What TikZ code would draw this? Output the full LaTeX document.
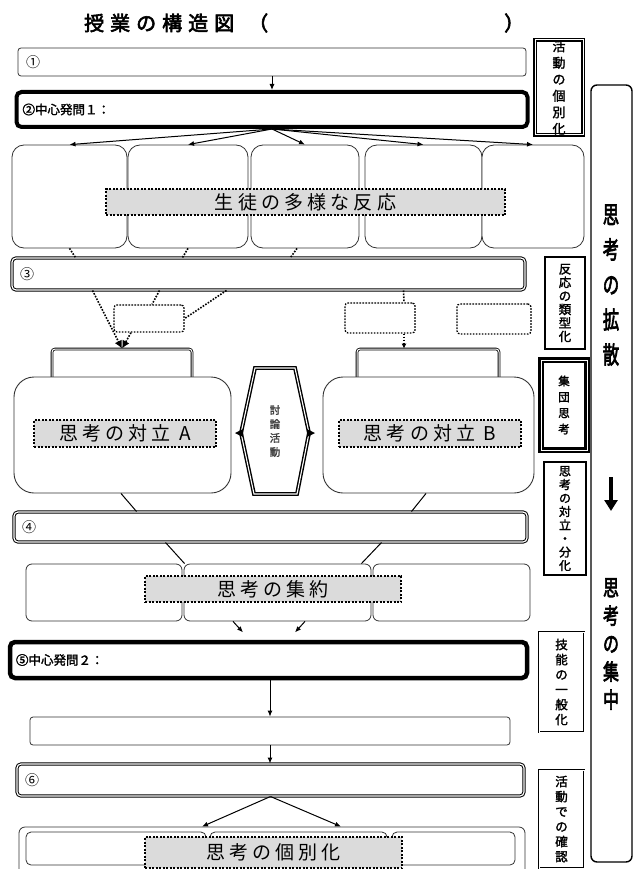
\documentclass[tikz,border=0pt]{standalone}
\usepackage{fontspec}
\usepackage{graphicx}
\setmainfont{Noto Sans CJK JP}
\newfontfamily\jpb{Noto Sans CJK JP}[FakeBold=2]
\newfontfamily\jpbb{Noto Sans CJK JP}[FakeBold=3.5]
\newfontfamily\jpsp{Noto Sans CJK JP}[LetterSpace=22]
\newfontfamily\jptitle{Noto Sans CJK JP}[FakeBold=3, LetterSpace=30]
\usetikzlibrary{arrows.meta, positioning, calc}

\begin{document}
\begin{tikzpicture}[x=1pt, y=-1pt,
    plainbox/.style={draw=black!80, rounded corners=3pt, line width=0.8pt, inner xsep=8pt, align=left},
    boldbox/.style={draw, rounded corners=5pt, line width=4pt, inner xsep=6pt, align=left},
    dblbox/.style={draw, rounded corners=4pt, line width=1pt, double, double distance=1.2pt, inner xsep=8pt, align=left},
    resp/.style={draw=black!80, rounded corners=12pt, line width=0.8pt, fill=white, inner sep=0pt},
    bigresp/.style={draw=black!80, rounded corners=20pt, line width=0.9pt, fill=white, inner sep=0pt},
    tabbox/.style={draw, rounded corners=3pt, line width=0.8pt, double, double distance=1pt, inner sep=0pt},
    smallbox/.style={draw, rounded corners=3pt, line width=1.3pt, dash pattern=on 1.6pt off 1.4pt, inner sep=0pt},
    lbl/.style={draw, fill=gray!28, line width=1.6pt, dash pattern=on 2pt off 1.5pt, inner sep=0pt,
                font=\jpsp\fontsize{19}{19}\selectfont},
    sidebox/.style={draw, line width=0.8pt, double, double distance=1pt, inner sep=0pt, align=center,
                font=\jpb\fontsize{12.5}{15}\selectfont},
    arr/.style={-{Latex[length=6pt, width=5pt]}, line width=1pt},
    dotarr/.style={line width=1.6pt, dash pattern=on 1.6pt off 1.4pt}
]
\useasboundingbox (0,0) rectangle (633,869);
\clip (0,0) rectangle (633,869);

% title
\node[anchor=west, inner sep=0pt, font=\jptitle\fontsize{20}{20}\selectfont] (title) at (84,23) {授業の構造図\hspace{14pt}（};
\node[anchor=west, inner sep=0pt, font=\jptitle\fontsize{20}{20}\selectfont] (titleend) at (504,23) {）};

% 1 and 2
\node[plainbox, minimum height=28, text width=492, font=\fontsize{14}{14}\selectfont] (q1) at (272,62) {①};
\node[boldbox, minimum height=35, text width=499, font=\jpb\fontsize{12.5}{13}\selectfont] (q2) at (272,109.5) {②中心発問１：};
\draw[arr] (q1.south) -- (q2.north);

% responses
\node[resp, minimum width=115, minimum height=103] (r1) at (69.5,196.5) {};
\node[resp, minimum width=120, minimum height=103] (r2) at (188,196.5) {};
\node[resp, minimum width=108, minimum height=103] (r3) at (305,196.5) {};
\node[resp, minimum width=117, minimum height=103] (r4) at (423.5,196.5) {};
\node[resp, minimum width=102, minimum height=103] (r5) at (533,196.5) {};
\foreach \r in {r1,r2,r3,r4,r5}
    \draw[arr] (q2.south) -- (\r.north);
\node[lbl, minimum width=399, minimum height=26] (gen) at (305.5,202) {生徒の多様な反応};

% 3
\node[dblbox, minimum height=32, text width=497, font=\fontsize{14}{14}\selectfont] (q3) at (268.5,274) {③};
\draw[dotarr] (r1.south) -- ($(q3.north west)+(64,0)$);
\draw[dotarr] (r2.south) -- ($(q3.north west)+(171,0)$);
\draw[dotarr] ([xshift=-8pt]r3.south) -- ($(q3.north west)+(279,0)$);

% grouping
\node[smallbox, minimum width=70, minimum height=27] (s1) at (149,318.5) {};
\node[smallbox, minimum width=70, minimum height=30] (s2) at (380,318) {};
\node[smallbox, minimum width=74, minimum height=30] (s3) at (494,319) {};

\node[tabbox, minimum width=140, minimum height=36] (tabA) at (122,367) {};
\node[tabbox, minimum width=142, minimum height=36] (tabB) at (428,367) {};
\node[bigresp, minimum width=217, minimum height=116] (boxA) at (122.5,435) {};
\node[bigresp, minimum width=211, minimum height=116] (boxB) at (428.5,435) {};

\draw[dotarr] ($(q3.south west)+(148,0)$) -- ([xshift=3pt]s1.north);
\draw[dotarr] ($(q3.south west)+(215,0)$) -- (s1.east);
\draw[dotarr, -{Latex[length=8pt, width=8pt]}] ($(q3.south west)+(81,0)$) -- (tabA.north);
\draw[dotarr, -{Latex[length=8pt, width=8pt]}] ([xshift=-18pt]s1.south) -- (tabA.north);
\draw[dotarr] ($(q3.south west)+(392,0)$) -- ([xshift=24pt]s2.north);
\draw[dotarr, -{Latex[length=5pt, width=5pt]}] ([xshift=24pt]s2.south) -- ([xshift=-24pt]tabB.north);

\node[lbl, minimum width=182, minimum height=27] (lblA) at (125,433.5) {思考の対立 A};
\node[lbl, minimum width=182, minimum height=27] (lblB) at (430,433.5) {思考の対立 B};

% discussion
\draw[line width=1.4pt, double, double distance=1.1pt] (255,368) -- (295,368) -- (309,433) -- (297,494) -- (254,494) -- (241,433) -- cycle;
\fill (235,433) -- (243,429) -- (243,437) -- cycle;
\fill (315,433) -- (307,429) -- (307,437) -- cycle;
\node[align=center, text=black!75, font=\jpb\fontsize{10.5}{14}\selectfont] (disc) at (275,431) {討\\論\\活\\動};

% 4
\node[dblbox, minimum height=30, text width=497, font=\fontsize{14}{14}\selectfont] (q4) at (270.5,527) {④};
\draw[line width=1pt] ([xshift=-1.5pt]boxA.south) -- ($(q4.north west)+(123,0)$);
\draw[line width=1pt] ([xshift=-2.5pt]boxB.south) -- ($(q4.north west)+(398,0)$);

\node[resp, rounded corners=6pt, minimum width=156, minimum height=57] (c1) at (104,592.5) {};
\node[resp, rounded corners=6pt, minimum width=187, minimum height=57] (c2) at (277.5,592.5) {};
\node[resp, rounded corners=6pt, minimum width=157, minimum height=57] (c3) at (451.5,592.5) {};
\draw[line width=1pt] ($(q4.south west)+(152,0)$) -- ([xshift=1pt]c2.north west);
\draw[line width=1pt] ($(q4.south west)+(368,0)$) -- ([xshift=-10pt]c2.north east);
\node[lbl, minimum width=256, minimum height=26] (sum) at (273,589) {思考の集約};
\draw[arr] ([xshift=-44.5pt]c2.south) -- ([xshift=-34.5pt, yshift=-11pt]c2.south);
\draw[arr] ([xshift=27.5pt]c2.south) -- ([xshift=17.5pt, yshift=-11pt]c2.south);

% 5 and 6
\node[boldbox, line width=4.5pt, minimum height=36, text width=505, font=\jpb\fontsize{12.5}{13}\selectfont] (q5) at (268.5,660) {⑤中心発問２：};
\node[plainbox, minimum height=28, text width=464] (p0) at (270,731) {};
\node[dblbox, minimum height=32, text width=491, font=\fontsize{14}{14}\selectfont] (q6) at (270.5,780) {⑥};
\draw[arr] (p0.north |- q5.south) -- (p0.north);
\draw[arr] (p0.south) -- (p0.south |- q6.north);

\node[resp, rounded corners=6pt, minimum width=506, minimum height=53] (b0) at (272,853.5) {};
\node[resp, rounded corners=5pt, minimum width=180, minimum height=33] (b1) at (116,848.5) {};
\node[resp, rounded corners=5pt, minimum width=177, minimum height=33] (b2) at (298.5,848.5) {};
\node[resp, rounded corners=5pt, minimum width=123, minimum height=33] (b3) at (453.5,848.5) {};
\draw[arr] (q6.south) -- ([xshift=-70pt]b0.north);
\draw[arr] (q6.south) -- ([xshift=69pt]b0.north);
\node[lbl, minimum width=257, minimum height=31] (ind) at (273.5,852.5) {思考の個別化};

% side labels
\node[sidebox, line width=1.6pt, minimum width=48, minimum height=95, font=\jpb\fontsize{13}{16.5}\selectfont] (a1) at (559,87.5) {活\\動\\の\\個\\別\\化};
\node[sidebox, double=none, line width=1.6pt, minimum width=40, minimum height=92, font=\jpb\fontsize{12.5}{13.5}\selectfont] (a2) at (565,303) {反\\応\\の\\類\\型\\化};
\node[sidebox, line width=2.2pt, minimum width=46, minimum height=90, font=\jpb\fontsize{11.5}{16}\selectfont] (a3) at (564,405) {集\\団\\思\\考};
\node[sidebox, double=none, line width=1.5pt, minimum width=42, minimum height=113, font=\jpb\fontsize{12}{13.5}\selectfont] (a4) at (565,518.5) {思\\考\\の\\対\\立\\・\\分\\化};
\node[sidebox, minimum width=45, minimum height=100] (a5) at (561.5,682) {技\\能\\の\\一\\般\\化};
\node[sidebox, minimum width=45, minimum height=98] (a6) at (561.5,819) {活\\動\\で\\の\\確\\認};

% right column
\node[draw, rounded corners=6pt, line width=1.4pt, minimum width=41, minimum height=777] (side) at (611.5,473.5) {};
\node[inner sep=0pt] (spread) at (611,285)
    {\scalebox{0.68}[1]{\parbox{26pt}{\centering\jpbb\fontsize{24}{35}\selectfont 思\\考\\の\\拡\\散}}};
\node[inner sep=0pt] (focus) at (611,644)
    {\scalebox{0.72}[1]{\parbox{26pt}{\centering\jpbb\fontsize{22}{28}\selectfont 思\\考\\の\\集\\中}}};
\coordinate (dn1) at (611,477);
\coordinate (dn2) at (611,511);
\draw[line width=4.5pt, -{Triangle[length=11pt, width=13pt]}] (dn1) -- (dn2);
\end{tikzpicture}
\end{document}
